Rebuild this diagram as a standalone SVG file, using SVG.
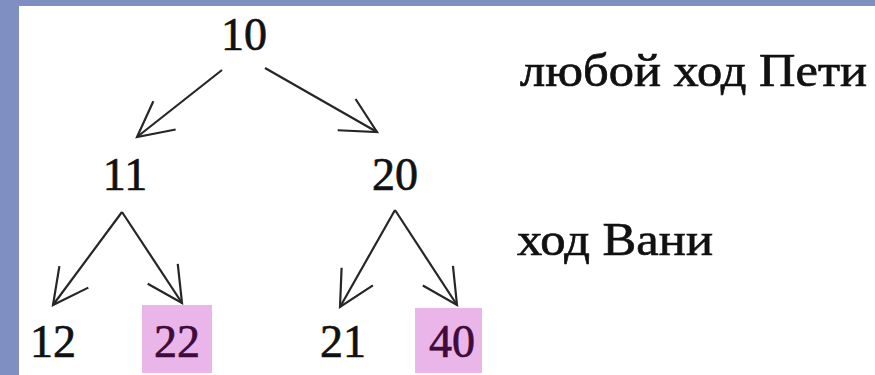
<svg xmlns="http://www.w3.org/2000/svg" width="875" height="375" viewBox="0 0 875 375">
<style>
.t{font-family:"Liberation Serif","DejaVu Serif",serif;font-size:46px;fill:#111;stroke:#111;stroke-width:0.7}
.n{text-anchor:middle}
.hl{fill:#eab6ea}
.ht{fill:#3f0a3c;stroke:#3f0a3c}
.c{stroke:#262626;stroke-width:2.2;fill:none}
</style>
<defs>
<marker id="ah" markerUnits="userSpaceOnUse" markerWidth="80" markerHeight="80" refX="0" refY="0" orient="auto" overflow="visible">
<path d="M-35,-18 L0,0 L-35,18" fill="none" stroke="#262626" stroke-width="2.2"/>
</marker>
</defs>
<rect x="0" y="0" width="875" height="375" fill="#7f8fc1"/>
<rect x="19" y="6" width="856" height="369" fill="#ffffff"/>
<g id="connectors" class="c">
<line x1="222" y1="70" x2="137" y2="137" marker-end="url(#ah)"/>
<line x1="265" y1="68" x2="377" y2="132" marker-end="url(#ah)"/>
<line x1="122" y1="212" x2="53" y2="305" marker-end="url(#ah)"/>
<line x1="122" y1="212" x2="182" y2="303" marker-end="url(#ah)"/>
<line x1="395" y1="210" x2="340" y2="307" marker-end="url(#ah)"/>
<line x1="395" y1="210" x2="457" y2="305" marker-end="url(#ah)"/>
</g>
<g id="n10"><text class="t n" x="244" y="50">10</text></g>
<g id="n11"><text class="t n" x="125" y="190">11</text></g>
<g id="n20"><text class="t n" x="395" y="190">20</text></g>
<g id="n12"><text class="t n" x="53" y="357">12</text></g>
<g id="n22"><rect class="hl" x="142" y="305" width="70" height="68"/><text class="t n ht" x="177" y="357">22</text></g>
<g id="n21"><text class="t n" x="343" y="357">21</text></g>
<g id="n40"><rect class="hl" x="415" y="308" width="67" height="65"/><text class="t n ht" x="452" y="357">40</text></g>
<g id="label1"><text class="t" x="520" y="86" textLength="347" lengthAdjust="spacingAndGlyphs">любой ход Пети</text></g>
<g id="label2"><text class="t" x="517" y="255" textLength="196" lengthAdjust="spacingAndGlyphs">ход Вани</text></g>
</svg>
